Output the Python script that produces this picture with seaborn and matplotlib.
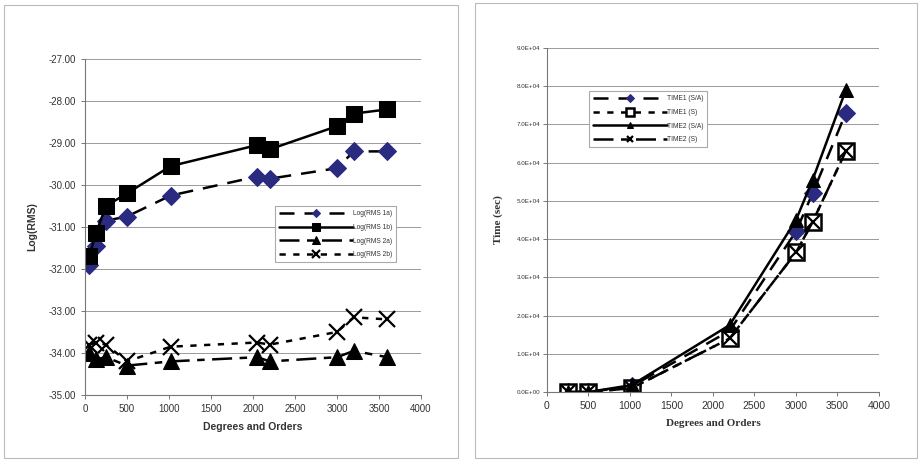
import numpy as np
import pandas as pd
import seaborn as sns
import matplotlib.pyplot as plt
from matplotlib.patches import Rectangle
from matplotlib.ticker import FuncFormatter

# left chart: Log(RMS) vs degree
deg_left = [50, 130, 250, 500, 1020, 2050, 2200, 3000, 3200, 3600]
rms_1a = [-31.9, -31.45, -30.85, -30.75, -30.25, -29.8, -29.85, -29.6, -29.2, -29.2]
rms_1b = [-31.7, -31.15, -30.5, -30.2, -29.55, -29.05, -29.15, -28.6, -28.3, -28.2]
rms_2a = [-34.0, -34.15, -34.1, -34.3, -34.2, -34.1, -34.2, -34.1, -33.95, -34.1]
rms_2b = [-33.8, -33.75, -33.8, -34.2, -33.85, -33.75, -33.8, -33.5, -33.15, -33.2]

# right chart: run time vs degree
deg_right = [250, 500, 1020, 2200, 3000, 3200, 3600]
time1_sa = [0, 0, 1500, 16000, 42000, 52000, 73000]
time1_s = [0, 0, 1000, 14000, 36500, 44500, 63000]
time2_sa = [0, 0, 1800, 17500, 45000, 55500, 79000]
time2_s = [0, 0, 1000, 14000, 36500, 44500, 63000]

sns.set_style("white")
plt.rcParams['font.family'] = ['Liberation Sans', 'DejaVu Sans']

txt = '#333333'
navy = '#2a2a80'

fig = plt.figure(figsize=(9.2, 4.61), dpi=100)
# panel frames
fig.patches.append(Rectangle((4 / 920, 3 / 461), 454 / 920, 453 / 461, transform=fig.transFigure,
                             fill=False, edgecolor='#bbbbbb', lw=0.8))
fig.patches.append(Rectangle((475 / 920, 3 / 461), 442 / 920, 455 / 461, transform=fig.transFigure,
                             fill=False, edgecolor='#bbbbbb', lw=0.8))

ax1 = fig.add_axes([85 / 920, 66 / 461, 336 / 920, 336 / 461])
ax2 = fig.add_axes([547 / 920, 69 / 461, 332 / 920, 344 / 461])

left_series = [
    ('Log(RMS 1a)', rms_1a, dict(linestyle=(0, (6, 4)), marker='D', markersize=9,
                                  markerfacecolor=navy, markeredgecolor=navy)),
    ('Log(RMS 1b)', rms_1b, dict(linestyle='-', marker='s', markersize=11,
                                  markerfacecolor='black', markeredgecolor='black')),
    ('Log(RMS 2a)', rms_2a, dict(linestyle=(0, (8, 3, 3, 3)), marker='^', markersize=11,
                                  markerfacecolor='black', markeredgecolor='black')),
    ('Log(RMS 2b)', rms_2b, dict(linestyle=(0, (2.5, 3)), marker='x', markersize=12,
                                  markeredgecolor='black', markeredgewidth=1.6)),
]
for name, vals, kw in left_series:
    sns.lineplot(x=deg_left, y=vals, ax=ax1, sort=False, label=name, lw=1.8, color='black', **kw)

right_series = [
    ('TIME1 (S/A)', time1_sa, dict(linestyle=(0, (6, 4)), marker='D', markersize=9,
                                    markerfacecolor=navy, markeredgecolor=navy)),
    ('TIME1 (S)', time1_s, dict(linestyle=(0, (2.5, 3)), marker='s', markersize=12,
                                markerfacecolor='white', markeredgecolor='black', markeredgewidth=1.8)),
    ('TIME2 (S/A)', time2_sa, dict(linestyle='-', marker='^', markersize=10,
                                    markerfacecolor='black', markeredgecolor='black')),
    ('TIME2 (S)', time2_s, dict(linestyle=(0, (8, 3, 3, 3)), marker='x', markersize=10,
                                markeredgecolor='black', markeredgewidth=1.6)),
]
for name, vals, kw in right_series:
    sns.lineplot(x=deg_right, y=vals, ax=ax2, sort=False, label=name, lw=1.8, color='black', **kw)

# axes styling
ax1.set_xlim(0, 4000)
ax1.set_ylim(-35, -27)
ax1.set_xticks(np.arange(0, 4001, 500))
ax1.set_yticks(np.arange(-35, -26.9, 1))
ax1.yaxis.set_major_formatter(FuncFormatter(lambda v, p: f'{v:.2f}'))

ax2.set_xlim(0, 4000)
ax2.set_ylim(0, 90000)
ax2.set_xticks(np.arange(0, 4001, 500))
ax2.set_yticks(np.arange(0, 90001, 10000))
ax2.yaxis.set_major_formatter(FuncFormatter(lambda v, p: f'{v:.1E}'))

for ax in (ax1, ax2):
    ax.grid(axis='y', color='#9a9a9a', lw=0.7)
    ax.set_axisbelow(True)
    for s in ('top', 'right'):
        ax.spines[s].set_visible(False)
    for s in ('left', 'bottom'):
        ax.spines[s].set_color('#777777')
        ax.spines[s].set_linewidth(0.8)
    ax.tick_params(axis='both', direction='out', length=3, width=0.7, color='#777777',
                   labelcolor=txt, left=True, bottom=True)

ax1.tick_params(axis='both', labelsize=7)
ax2.tick_params(axis='x', labelsize=7.5)
ax2.tick_params(axis='y', labelsize=4.5, pad=2)

ax1.set_xlabel('Degrees and Orders', fontsize=7.5, fontweight='bold', color=txt, labelpad=6)
ax1.set_ylabel('Log(RMS)', fontsize=7.5, fontweight='bold', color=txt, labelpad=8)
ax2.set_xlabel('Degrees and Orders', fontsize=8, fontweight='bold', color=txt, labelpad=6,
               family=['Liberation Serif', 'DejaVu Serif'])
ax2.set_ylabel('Time (sec)', fontsize=8, fontweight='bold', color=txt, labelpad=10,
               family=['Liberation Serif', 'DejaVu Serif'])

leg_kw = dict(fontsize=4.8, handlelength=11, handletextpad=0.0, labelspacing=1.0, borderpad=0.6,
              frameon=True, fancybox=False, edgecolor='#aaaaaa', framealpha=1, markerscale=0.5,
              labelcolor=txt)
leg1 = ax1.legend(loc='upper left', **leg_kw)
leg1.set_bbox_to_anchor((272 / 920, (461 - 203) / 461), transform=fig.transFigure)
leg2 = ax2.legend(loc='upper left', **leg_kw)
leg2.set_bbox_to_anchor((586 / 920, (461 - 88) / 461), transform=fig.transFigure)
for leg in (leg1, leg2):
    leg.get_frame().set_linewidth(0.8)

fig.savefig('out.png', dpi=100)
